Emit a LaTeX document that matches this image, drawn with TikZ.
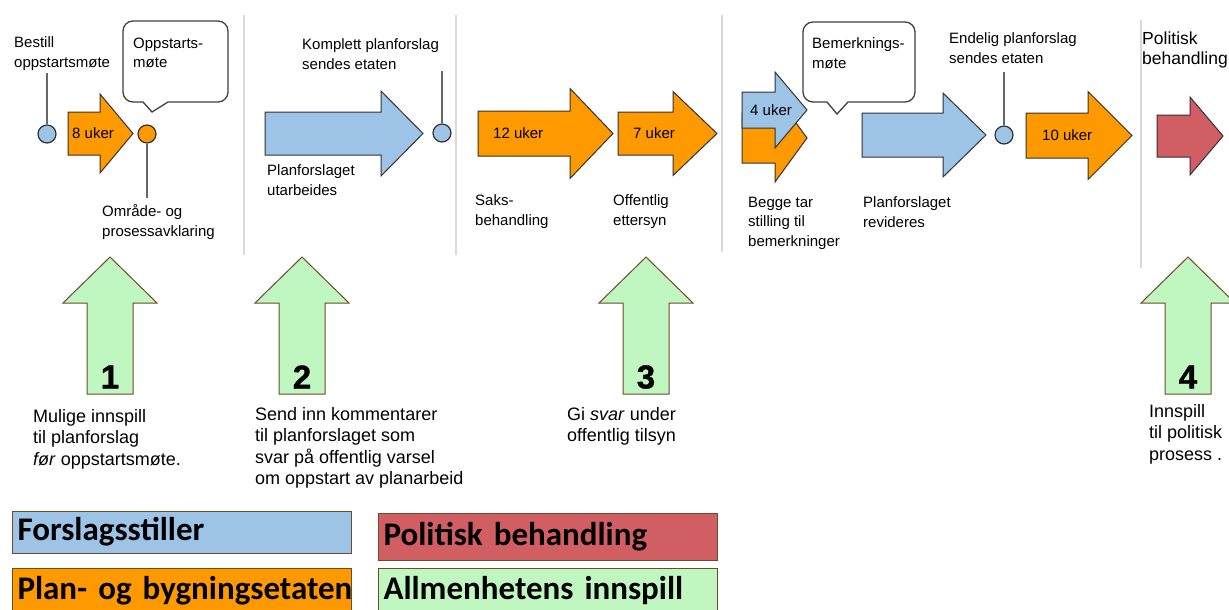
\documentclass[tikz,border=0pt]{standalone}
\usepackage{fontspec}
\setmainfont{Liberation Sans}
\newfontfamily\legendfont{Carlito}
\newfontfamily\digitfont[FakeBold=1.2]{Liberation Sans Bold}
\definecolor{planblue}{RGB}{157,195,230}
\definecolor{planorange}{RGB}{255,153,0}
\definecolor{polred}{RGB}{208,94,98}
\definecolor{pubgreen}{RGB}{192,246,192}
\definecolor{edge}{RGB}{50,50,50}
\definecolor{brownedge}{RGB}{110,75,40}
% style, tail x, neck x, tip x, centre y, half shaft, half head
\newcommand{\blockarrow}[7]{%
  \draw[#1] (#2,#5-#6) -- (#3,#5-#6) -- (#3,#5-#7) -- (#4,#5)
    -- (#3,#5+#7) -- (#3,#5+#6) -- (#2,#5+#6) -- cycle;}
% centre x, number
\newcommand{\liftarrow}[2]{%
  \draw[inputarrow] (#1-23,394) -- (#1-23,303) -- (#1-47,303) -- (#1,257)
    -- (#1+47,303) -- (#1+23,303) -- (#1+23,394) -- cycle;
  \node[digit] (n#2) at (#1,377) {#2};}
\begin{document}
\begin{tikzpicture}[x=1pt, y=-1pt,
    lbl/.style={anchor=north west, inner sep=0pt, align=left, font=\fontsize{15}{19.5}\selectfont},
    note/.style={anchor=north west, inner sep=0pt, align=left, font=\fontsize{18}{21.5}\selectfont},
    weeks/.style={anchor=west, inner sep=0pt, font=\fontsize{15}{18}\selectfont},
    digit/.style={inner sep=0pt, font=\digitfont\fontsize{33}{33}\selectfont},
    dot/.style={circle, draw=edge, line width=1.2pt, minimum size=18pt, inner sep=0pt},
    pin/.style={draw=black!60, line width=1.2pt},
    sep/.style={draw=black!15, line width=2pt},
    bubble/.style={draw=black!75, line width=1.3pt, fill=white},
    proposer/.style={draw=edge, line width=1pt, fill=planblue},
    agency/.style={draw=edge, line width=1pt, fill=planorange},
    politics/.style={draw=edge, line width=1pt, fill=polred},
    inputarrow/.style={draw=brownedge, line width=1pt, fill=pubgreen},
    legend/.style={rectangle, anchor=north west, draw=brownedge, line width=1pt,
        text width=329pt, align=left, inner xsep=5pt, minimum height=42pt,
        text height=24pt, text depth=8pt, font=\legendfont\bfseries\fontsize{33}{36}\selectfont}
    ]
    \useasboundingbox (0,0) rectangle (1229,610);
    \clip (0,0) rectangle (1229,610);
    % phase separators
    \draw[sep] (244,15) -- (244,255);
    \draw[sep] (456,15) -- (456,255);
    \draw[sep] (722,15) -- (722,252);
    \draw[sep] (1141,20) -- (1141,268);
    % process arrows
    \blockarrow{agency}{68}{100}{133}{133.5}{21.5}{39.5}
    \blockarrow{proposer}{265}{381}{423}{133.5}{21.5}{42.5}
    \blockarrow{agency}{478}{570}{613}{133.5}{22.5}{45}
    \blockarrow{agency}{618}{673}{717}{133.5}{21.5}{42}
    \blockarrow{agency}{742}{775}{807}{138}{25}{44}
    \blockarrow{proposer}{742}{775}{807}{110}{18}{38}
    \blockarrow{proposer}{862}{943}{986}{135}{22}{42}
    \blockarrow{agency}{1026}{1088}{1132}{135.5}{22.5}{44}
    \blockarrow{politics}{1157}{1190}{1223}{136}{21}{39}
    \node[weeks] (w8) at (72,133.5) {8 uker};
    \node[weeks] (w12) at (493,133.5) {12 uker};
    \node[weeks] (w7) at (633,133.5) {7 uker};
    \node[weeks] (w4) at (750,110) {4 uker};
    \node[weeks] (w10) at (1042,135.5) {10 uker};
    % meetings
    \draw[bubble] (143,102) [rounded corners=10pt] -- (123,102) -- (123,21) -- (228,21)
        -- (228,102) [sharp corners] -- (168,102) -- (152,112) -- cycle;
    \draw[bubble] (827,102) [rounded corners=10pt] -- (803,102) -- (803,22) -- (915,22)
        -- (915,102) [sharp corners] -- (848,102) -- (837,114) -- cycle;
    % labels
    \node[lbl] (bestill) at (14,36.5) {Bestill\\oppstartsmøte};
    \node[lbl] (oppstart) at (133,37.5) {Oppstarts-\\møte};
    \node[lbl] (omrade) at (102,204.5) {Område- og\\prosessavklaring};
    \node[lbl] (komplett) at (302,38.5) {Komplett planforslag\\sendes etaten};
    \node[lbl] (utarbeides) at (267,164.5) {Planforslaget\\utarbeides};
    \node[lbl] (saks) at (475,194.5) {Saks-\\behandling};
    \node[lbl] (ettersyn) at (613,194.5) {Offentlig\\ettersyn};
    \node[lbl] (begge) at (748,196.5) {Begge tar\\stilling til\\bemerkninger};
    \node[lbl] (bemerk) at (812,37.5) {Bemerknings-\\møte};
    \node[lbl] (endelig) at (949,32.5) {Endelig planforslag\\sendes etaten};
    \node[lbl] (revideres) at (863,196.5) {Planforslaget\\revideres};
    \node[lbl, font=\fontsize{17.5}{20}\selectfont] (politisk) at (1142,31.5) {Politisk\\behandling};
    % milestones
    \node[dot, fill=planblue] (d1) at (47,134) {};
    \node[dot, fill=planorange] (d2) at (147,134) {};
    \node[dot, fill=planblue] (d3) at (442,133) {};
    \node[dot, fill=planblue] (d4) at (1004,135) {};
    \draw[pin, shorten >=3pt] (d1.north) -- (d1.north |- bestill.south);
    \draw[pin, shorten >=7pt] (d2.south) -- (d2.south |- omrade.north);
    \draw[pin, shorten >=2pt] (d3.north) -- (d3.north |- komplett.south);
    \draw[pin, shorten >=9pt] (d4.north) -- (d4.north |- endelig.south);
    % public input
    \liftarrow{110}{1}
    \liftarrow{302}{2}
    \liftarrow{646}{3}
    \liftarrow{1188}{4}
    \node[note] (input1) at (33,409) {Mulige innspill\\til planforslag\\\textit{før} oppstartsmøte.};
    \node[note] (input2) at (255,407) {Send inn kommentarer\\til planforslaget som\\svar på offentlig varsel\\om oppstart av planarbeid};
    \node[note] (input3) at (567,407) {Gi \textit{svar} under\\offentlig tilsyn};
    \node[note] (input4) at (1149,404) {Innspill\\til politisk\\prosess .};
    % legend
    \node[legend, fill=planblue] (lgprop) at (12,511) {Forslagsstiller};
    \node[legend, fill=planorange, minimum height=46pt] (lgagency) at (12,568) {\mbox{Plan- og bygningsetaten}};
    \node[legend, fill=polred, minimum height=47pt] (lgpol) at (378,513) {Politisk behandling};
    \node[legend, fill=pubgreen, minimum height=46pt] (lgpub) at (378,568) {Allmenhetens innspill};
\end{tikzpicture}
\end{document}
